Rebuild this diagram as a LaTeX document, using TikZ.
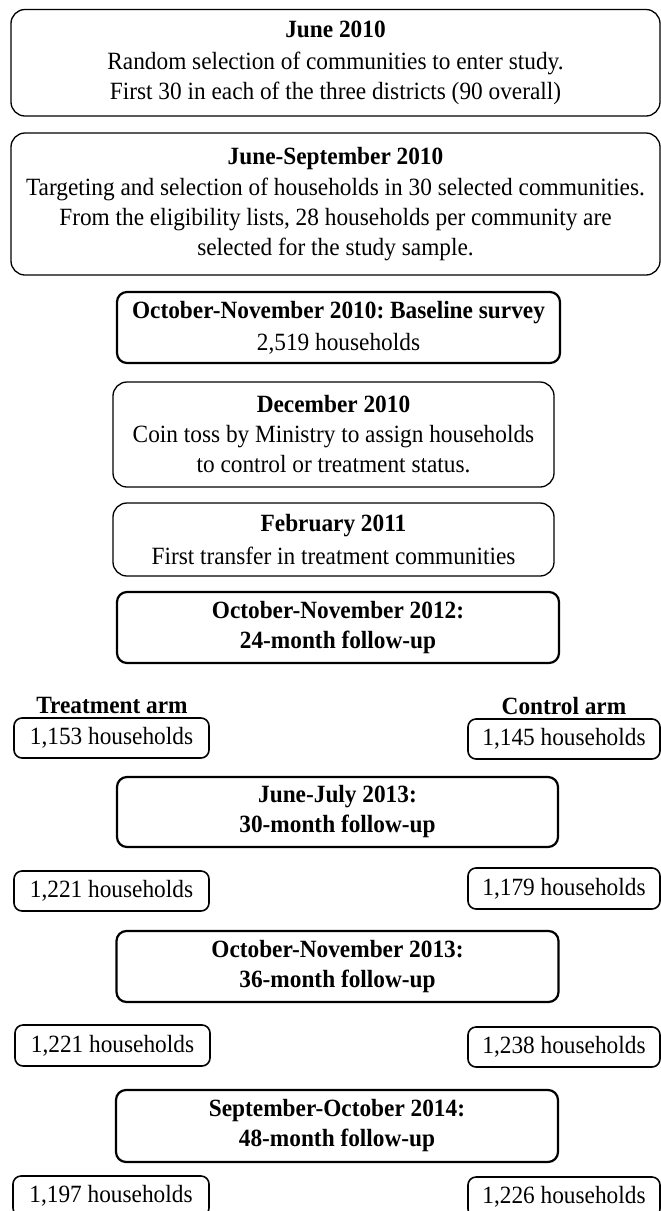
\documentclass[tikz,border=0pt]{standalone}
\usepackage{fontspec}
\setmainfont{Liberation Serif}[FakeStretch=0.94]
\frenchspacing
\begin{document}
\begin{tikzpicture}[x=1pt,y=-1pt,
  every node/.style={font=\fontsize{24.8}{30}\selectfont, align=center, inner sep=0pt, outer sep=0pt},
  thinbox/.style={draw, rounded corners=14pt, line width=1.3pt},
  heavybox/.style={draw, rounded corners=10pt, line width=2.2pt},
  hhbox/.style={draw, rounded corners=8pt, line width=1.6pt},
  armlabel/.style={font=\fontsize{24.8}{30}\selectfont\bfseries}
]
\useasboundingbox (0,0) rectangle (661,1211);
\node[thinbox, minimum width=649pt, minimum height=106.5pt] (b1) at (335.5,62.75)
  {\textbf{June 2010}\\[2pt]Random selection of communities to enter study.\\First 30 in each of the three districts (90 overall)};
\node[thinbox, minimum width=649pt, minimum height=142pt] (b2) at (335.5,204)
  {\textbf{June-September 2010}\\[1pt]Targeting and selection of households in 30 selected communities.\\From the eligibility lists, 28 households per community are\\selected for the study sample.};
\node[heavybox, minimum width=443pt, minimum height=71pt] (b3) at (338.5,327.5)
  {\textbf{October-November 2010: Baseline survey}\\[2pt]2,519 households};
\node[thinbox, minimum width=441pt, minimum height=105pt] (b4) at (333.5,434.5)
  {\textbf{December 2010}\\Coin toss by Ministry to assign households\\to control or treatment status.};
\node[thinbox, minimum width=441pt, minimum height=73pt] (b5) at (333.5,539.5)
  {\textbf{February 2011}\\[3pt]First transfer in treatment communities};
\node[heavybox, minimum width=442pt, minimum height=71pt] (b6) at (338,627.5)
  {\textbf{October-November 2012:}\\\textbf{24-month follow-up}};
\node[armlabel] (tarm) at (112,705) {Treatment arm};
\node[armlabel] (carm) at (564,706) {Control arm};
\node[hhbox, minimum width=195pt, minimum height=40pt] (t1) at (111.5,738) {1,153 households};
\node[hhbox, minimum width=192pt, minimum height=40pt] (c1) at (564,739) {1,145 households};
\node[heavybox, minimum width=441pt, minimum height=70pt] (b7) at (337.5,812)
  {\textbf{June-July 2013:}\\\textbf{30-month follow-up}};
\node[hhbox, minimum width=195pt, minimum height=40pt] (t2) at (111.5,891) {1,221 households};
\node[hhbox, minimum width=192pt, minimum height=41pt] (c2) at (564,888.5) {1,179 households};
\node[heavybox, minimum width=442pt, minimum height=71pt] (b8) at (337.5,966.5)
  {\textbf{October-November 2013:}\\\textbf{36-month follow-up}};
\node[hhbox, minimum width=195pt, minimum height=41pt] (t3) at (112.5,1045.5) {1,221 households};
\node[hhbox, minimum width=192pt, minimum height=40pt] (c3) at (564,1047) {1,238 households};
\node[heavybox, minimum width=442pt, minimum height=72pt] (b9) at (337,1126)
  {\textbf{September-October 2014:}\\\textbf{48-month follow-up}};
\node[hhbox, minimum width=196pt, minimum height=40pt] (t4) at (111,1196) {1,197 households};
\node[hhbox, minimum width=192pt, minimum height=40pt] (c4) at (564,1197) {1,226 households};
\end{tikzpicture}
\end{document}
